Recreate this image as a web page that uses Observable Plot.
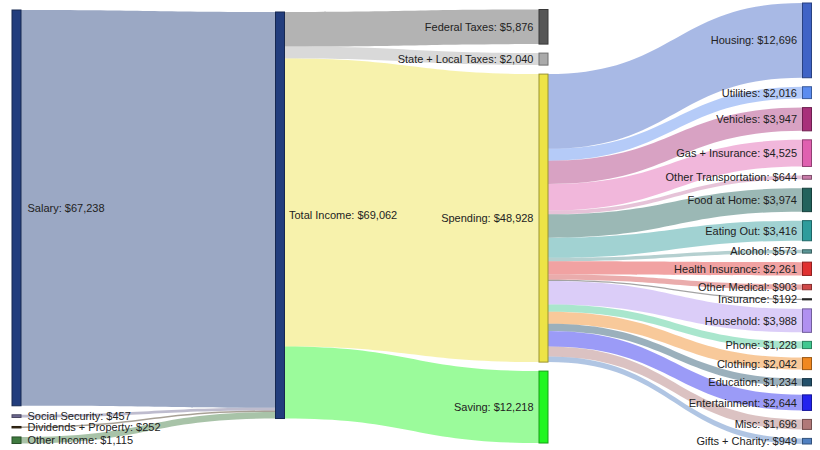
<!DOCTYPE html>
<html><head><meta charset="utf-8">
<script src="https://cdn.jsdelivr.net/npm/d3@7"></script>
<script src="https://cdn.jsdelivr.net/npm/@observablehq/plot@0.6"></script>
<style>body{margin:0;background:#fff}</style>
</head><body><div id="chart"></div>
<script>
// ---- data ----
const incomeSources = ["Salary", "Social Security", "Dividends + Property", "Other Income"];
const incomeValues = [67238, 457, 252, 1115];
const hubName = "Total Income";
const uses = ["Federal Taxes", "State + Local Taxes", "Spending", "Saving"];
const useValues = [5876, 2040, 48928, 12218];
const spendCategories = ["Housing", "Utilities", "Vehicles", "Gas + Insurance", "Other Transportation",
  "Food at Home", "Eating Out", "Alcohol", "Health Insurance", "Other Medical", "Insurance",
  "Household", "Phone", "Clothing", "Education", "Entertainment", "Misc", "Gifts + Charity"];
const spendValues = [12696, 2016, 3947, 4525, 644, 3974, 3416, 573, 2261, 903, 192,
  3988, 1228, 2042, 1234, 2644, 1696, 949];

// ---- palette ----
const incomeColors = ["#223d7d", "#6f6a92", "#3c2c14", "#3f7a3f"];
const hubColor = "#223d7d";
const useColors = ["#565656", "#aaaaaa", "#ede346", "#22f622"];
const spendColors = ["#3f63c6", "#5b8cf0", "#a8307a", "#e060b0", "#c87aa8", "#22625c", "#2e9c9c",
  "#5a9696", "#e03030", "#d04848", "#333333", "#b090f0", "#40c890", "#f08820", "#22506a",
  "#2222ee", "#b07878", "#4f7fc0"];

// ---- layout parameters ----
const W = 820, H = 450;
const xRange = [16.5, 807];
const yRange = [3, 444];
const gapPx = 9;
const nodeHalfPx = 4.5;
const colTopPx = [10, 12, 9.5, 3];
const labelDx = [6, 4, -6, -6];

// ---- build graph ----
const nodes = [];
const links = [];
function node(name, col, color) { const n = {name, col, color, inLinks: [], outLinks: []}; nodes.push(n); return n; }
const hub = node(hubName, 1, hubColor);
incomeSources.forEach((s, i) => {
  const n = node(s, 0, incomeColors[i]);
  links.push({source: n, target: hub, value: incomeValues[i]});
});
let spendingNode;
uses.forEach((s, i) => {
  const n = node(s, 2, useColors[i]);
  if (s === "Spending") spendingNode = n;
  links.push({source: hub, target: n, value: useValues[i]});
});
spendCategories.forEach((s, i) => {
  const n = node(s, 3, spendColors[i]);
  links.push({source: spendingNode, target: n, value: spendValues[i]});
});
links.forEach(l => { l.source.outLinks.push(l); l.target.inLinks.push(l); });
nodes.forEach(n => {
  n.value = Math.max(d3.sum(n.inLinks, l => l.value), d3.sum(n.outLinks, l => l.value));
});

// vertical scale: the tallest column (spending categories) fills yRange
const col3 = nodes.filter(n => n.col === 3);
const tallest = d3.sum(col3, n => n.value);
const kPx = (yRange[1] - yRange[0] - gapPx * (col3.length - 1)) / tallest; // px per dollar
const gap = gapPx / kPx;
const yMax = (yRange[1] - yRange[0]) / kPx;

for (let c = 0; c < 4; c++) {
  let y = (colTopPx[c] - yRange[0]) / kPx;
  nodes.filter(n => n.col === c).forEach(n => {
    n.y0 = y; n.y1 = y + n.value; y = n.y1 + gap;
  });
}
nodes.forEach(n => {
  let sy = n.y0;
  n.outLinks.slice().sort((a, b) => a.target.y0 - b.target.y0).forEach(l => { l.sy0 = sy; sy += l.value; });
  let ty = n.y0;
  n.inLinks.slice().sort((a, b) => a.source.y0 - b.source.y0).forEach(l => { l.ty0 = ty; ty += l.value; });
});

const pxPerCol = (xRange[1] - xRange[0]) / 3;
const hw = nodeHalfPx / pxPerCol;

const linkRows = [];
links.forEach((l, i) => {
  const c = l.source.col === 0 ? l.source.color : l.target.color;
  linkRows.push({id: i, x: l.source.col + hw, y1: l.sy0, y2: l.sy0 + l.value, color: c});
  linkRows.push({id: i, x: l.target.col - hw, y1: l.ty0, y2: l.ty0 + l.value, color: c});
});

const fmt = d3.format(",");
nodes.forEach(n => {
  n.label = `${n.name}: $${fmt(n.value)}`;
  n.mid = (n.y0 + n.y1) / 2;
  n.x1 = n.col - hw; n.x2 = n.col + hw;
  n.stroke = d3.color(n.color).darker(1.2).formatHex();
});

const textMarks = [0, 1, 2, 3].map(c => Plot.text(nodes.filter(n => n.col === c), {
  x: c < 2 ? "x2" : "x1", y: "mid", text: "label",
  textAnchor: c < 2 ? "start" : "end", dx: labelDx[c], fontSize: 11, fill: "#222"
}));

const chart = Plot.plot({
  width: W, height: H,
  marginLeft: 0, marginRight: 0, marginTop: 0, marginBottom: 0,
  x: {domain: [0, 3], range: xRange, axis: null},
  y: {domain: [0, yMax], range: yRange, axis: null},
  color: {type: "identity"},
  style: {fontFamily: "'Liberation Sans', Arial, sans-serif", background: "#fff"},
  marks: [
    Plot.area(linkRows, {x1: "x", y1: "y1", y2: "y2", z: "id", fill: "color", fillOpacity: 0.45, curve: "bump-x"}),
    Plot.rect(nodes, {x1: "x1", x2: "x2", y1: "y0", y2: "y1", fill: "color", stroke: "stroke", strokeWidth: 1}),
    ...textMarks
  ]
});
document.getElementById("chart").appendChild(chart);
</script>
</body></html>
